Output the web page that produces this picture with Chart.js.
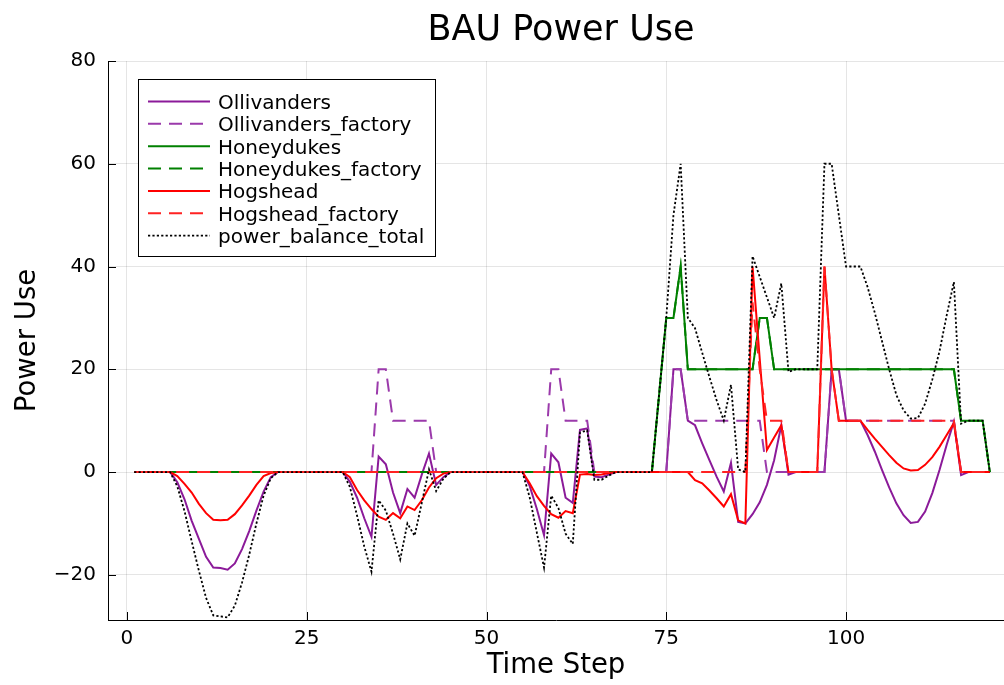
<!DOCTYPE html>
<html>
<head>
<meta charset="utf-8">
<script src="https://cdn.jsdelivr.net/npm/chart.js@4.4.1/dist/chart.umd.min.js"></script>
<style>
html,body{margin:0;padding:0;background:#fff;}
#wrap{width:1004px;height:685px;position:relative;}
</style>
</head>
<body>
<div id="wrap"><canvas id="c" width="1004" height="685"></canvas></div>
<script>
// ---------------- DATA ----------------
const titleText = 'BAU Power Use';
const xTitle = 'Time Step';
const yTitle = 'Power Use';
const xTickValues = [0, 25, 50, 75, 100];
const yTickValues = [-20, 0, 20, 40, 60, 80];
const timeSteps = Array.from({length: 120}, (_, i) => i + 1);

const seriesNames = ['Ollivanders', 'Ollivanders_factory', 'Honeydukes', 'Honeydukes_factory', 'Hogshead', 'Hogshead_factory', 'power_balance_total'];

const ollivanders = [
  0,0,0,0,0,0,
  -2,-5.3,-9.5,-13,-16.5,-18.6,-18.7,-19,-17.8,-15,-11.5,-7.5,-3.8,-1,0,
  0,0,0,0,0,0,0,0,0,
  -1.9,-5,-9,-12.6,3,1.5,-4,-8,-3.3,-5,-0.5,3.6,-2.5,-1,0,
  0,0,0,0,0,0,0,0,0,0,
  -2.7,-7.2,-12.3,3.6,1.9,-5,-6,8.2,8.5,-0.9,-1,-0.5,0,
  0,0,0,0,0,0,0,
  20,20,10,9.1,5.6,2.3,-0.9,-3.8,1.8,-9.7,-10,-8.2,-5.9,-2.5,2.3,9.1,-0.5,0,0,0,0,0,
  20,20,10,10,10,7.2,4,0.4,-3,-6.1,-8.4,-9.9,-9.7,-7.7,-4.1,0.4,5.3,9.8,-0.6,0,0,0,0
];

const ollivandersFactory = [
  0,0,0,0,0,0,0,0,0,0, 0,0,0,0,0,0,0,0,0,0, 0,0,0,0,0,0,0,0,0,0, 0,0,0,0,
  20,20,10,10,10,10,10,10,
  0,0,0,0,0,0,0,0,0,0,0,0,0,0,0,0,
  20,20,10,10,10,10,
  0,0,0,0,0,0,0,0,0,0,0,
  20,20,10,10,10,10,10,10,10,10,10,10,10,
  0,0,0,0,0,0,0,0,0,
  20,20,10,10,10,10,10,10,10,10,10,10,10,10,10,10,10,10,
  0,0,0,0,0
];

const honeydukes = [
  0,0,0,0,0,0,0,0,0,0, 0,0,0,0,0,0,0,0,0,0, 0,0,0,0,0,0,0,0,0,0,
  0,0,0,0,0,0,0,0,0,0, 0,0,0,0,0,0,0,0,0,0, 0,0,0,0,0,0,0,0,0,0,
  0,0,0,0,0,0,0,0,0,0, 0,0,0,
  15,30,30,40,
  20,20,20,20,20,20,20,20,20,20,
  30,30,
  20,20,20,20,20,20,20,20,20,20,20,20,20,20,20,20,20,20,20,20,20,20,20,20,20,20,
  10,10,10,10,
  0
];

const honeydukesFactory = [
  0,0,0,0,0,0,0,0,0,0, 0,0,0,0,0,0,0,0,0,0, 0,0,0,0,0,0,0,0,0,0,
  0,0,0,0,0,0,0,0,0,0, 0,0,0,0,0,0,0,0,0,0, 0,0,0,0,0,0,0,0,0,0,
  0,0,0,0,0,0,0,0,0,0, 0,0,0,
  15,30,30,40,
  20,20,20,20,20,20,20,20,20,20,
  30,30,
  20,20,20,20,20,20,20,20,20,20,20,20,20,20,20,20,20,20,20,20,20,20,20,20,20,20,
  10,10,10,10,
  0
];

const hogshead = [
  0,0,0,0,0,0,
  -0.8,-2.3,-4,-6.2,-8,-9.3,-9.4,-9.3,-8.2,-6.5,-4.6,-2.5,-0.8,-0.2,0,
  0,0,0,0,0,0,0,0,0,
  -1,-3.5,-5.5,-7.2,-8.7,-9.3,-8,-9,-6.7,-7.4,-5.5,-3,-1.2,-0.3,0,
  0,0,0,0,0,0,0,0,0,0,
  -2.2,-4.7,-6.6,-8.2,-8.9,-7.6,-8,-0.5,-0.4,-0.6,-0.5,-0.2,0,
  0,0,0,0,0,0,0,0,0,0,
  -1.6,-2.2,-3.6,-5.1,-6.7,-4.3,-9.4,-10,40,22,4.3,6.7,9.1,0,0,0,0,0,
  40,20,10,10,10,10,8.2,6.5,4.9,3.3,1.8,0.7,0.3,0.4,1.4,2.9,4.9,7.2,9.5,
  0,0,0,0,0
];

const hogsheadFactory = [
  0,0,0,0,0,0,0,0,0,0, 0,0,0,0,0,0,0,0,0,0, 0,0,0,0,0,0,0,0,0,0,
  0,0,0,0,0,0,0,0,0,0, 0,0,0,0,0,0,0,0,0,0, 0,0,0,0,0,0,0,0,0,0,
  0,0,0,0,0,0,0,0,0,0, 0,0,0,0,0,0,0,0,0,0, 0,0,0,0,0,0,
  33,20,10,10,10,
  0,0,0,0,0,
  40,20,
  10,10,10,10,10,10,10,10,10,10,10,10,10,10,10,10,10,
  0,0,0,0,0
];

const powerBalanceTotal = [
  0,0,0,0,0,0,
  -2.8,-7.6,-13.5,-19.2,-24.5,-27.9,-28.1,-28.3,-26,-21.5,-16.1,-10,-4.6,-1.2,0,
  0,0,0,0,0,0,0,0,0,
  -2.9,-8.5,-14.5,-19.4,-5.5,-7.5,-12,-17,-10,-12.4,-6,0.5,-3.7,-1.3,0,
  0,0,0,0,0,0,0,0,0,0,
  -4.9,-11.8,-18.6,-4.6,-7,-12,-14,7.7,8.1,-1.5,-1.5,-0.7,0,
  0,0,0,0,0,
  15,30,50,60,30,28,23.2,18.5,14,10,
  17,0.5,0,42,38,34,30,36.7,19.5,20,
  20,20,20,60,60,50,40,40,40,36,
  31,25.5,20,15,12,10.4,10.5,13.3,18,23.5,
  30.5,37,9.4,10,10,10,0
];

// ---------------- STYLE ----------------
const FONT = "'DejaVu Sans', sans-serif";
Chart.defaults.font.family = FONT;
Chart.defaults.color = '#000';

const seriesValues = [ollivanders, ollivandersFactory, honeydukes, honeydukesFactory, hogshead, hogsheadFactory, powerBalanceTotal];
const seriesColors = ['#8b1a99', '#9b3aab', '#008000', '#008000', '#ff0000', '#ff2222', '#000000'];
const DASH = [13, 8];
const DOT = [2.2, 2.2];
const seriesDash = [[], DASH, [], DASH, [], DASH, DOT];
const seriesDashOffset = [0, 0, 0, 10, 0, 0, 0];
const seriesWidth = [2, 2, 2, 2, 2, 2, 1.8];

const datasets = seriesNames.map((name, i) => ({
  label: name,
  data: seriesValues[i].map((v, j) => ({x: timeSteps[j], y: v})),
  borderColor: seriesColors[i],
  backgroundColor: seriesColors[i],
  borderDash: seriesDash[i],
  borderDashOffset: seriesDashOffset[i],
  borderWidth: seriesWidth[i],
  pointRadius: 0,
  tension: 0,
  fill: false,
  order: seriesNames.length - 1 - i
}));

const fmt = v => (v < 0 ? '\u2212' + Math.abs(v) : String(v));

const plotsDecor = {
  id: 'plotsDecor',
  afterDraw(chart) {
    const {ctx, chartArea: a, scales: {x, y}} = chart;
    ctx.save();
    // inward tick marks
    ctx.strokeStyle = '#000';
    ctx.lineWidth = 1;
    ctx.setLineDash([]);
    ctx.beginPath();
    xTickValues.forEach(v => {
      const px = Math.round(x.getPixelForValue(v)) + 0.5;
      ctx.moveTo(px, a.bottom); ctx.lineTo(px, a.bottom - 8);
    });
    yTickValues.forEach(v => {
      const py = Math.round(y.getPixelForValue(v)) + 0.5;
      ctx.moveTo(a.left, py); ctx.lineTo(a.left + 8, py);
    });
    ctx.stroke();

    // title
    ctx.fillStyle = '#000';
    ctx.font = `35px ${FONT}`;
    ctx.textAlign = 'center';
    ctx.textBaseline = 'alphabetic';
    ctx.fillText(titleText, 561, 40);

    // legend box
    const L = 138.5, T = 79.5, R = 435.5, B = 256.5;
    ctx.fillStyle = '#fff';
    ctx.fillRect(L, T, R - L, B - T);
    ctx.strokeStyle = '#000';
    ctx.lineWidth = 1;
    ctx.strokeRect(L, T, R - L, B - T);
    ctx.font = `20px ${FONT}`;
    ctx.textAlign = 'left';
    ctx.textBaseline = 'alphabetic';
    seriesNames.forEach((name, i) => {
      const cy = 101.5 + i * 22.35;
      ctx.save();
      ctx.strokeStyle = seriesColors[i];
      ctx.lineWidth = seriesWidth[i];
      ctx.setLineDash(seriesDash[i]);
      ctx.beginPath();
      ctx.moveTo(148, cy); ctx.lineTo(210, cy);
      ctx.stroke();
      ctx.restore();
      ctx.fillStyle = '#000';
      ctx.fillText(name, 218, cy + 7.3);
    });
    ctx.restore();
  }
};

new Chart(document.getElementById('c'), {
  type: 'line',
  data: {datasets},
  options: {
    responsive: false,
    animation: false,
    events: [],
    layout: {padding: {top: 61, right: 0, bottom: 0, left: 0}},
    plugins: {
      legend: {display: false},
      title: {display: false},
      tooltip: {enabled: false}
    },
    scales: {
      x: {
        type: 'linear',
        min: -2.64,
        max: 121.97,
        afterBuildTicks: s => { s.ticks = xTickValues.map(v => ({value: v})); },
        afterFit: s => { s.height = 65; },
        grid: {color: 'rgba(0,0,0,0.1)', lineWidth: 1, drawTicks: false},
        border: {display: true, color: '#000', width: 1},
        ticks: {padding: 7, autoSkip: false, maxRotation: 0, font: {size: 20}, color: '#000', callback: fmt},
        title: {display: true, text: xTitle, font: {size: 27.5}, color: '#000', padding: {top: 0, bottom: 3}}
      },
      y: {
        type: 'linear',
        min: -28.8,
        max: 80,
        afterBuildTicks: s => { s.ticks = yTickValues.map(v => ({value: v})); },
        afterFit: s => { s.width = 108; },
        grid: {color: 'rgba(0,0,0,0.1)', lineWidth: 1, drawTicks: false},
        border: {display: true, color: '#000', width: 1},
        ticks: {padding: 12, font: {size: 20}, color: '#000', callback: fmt},
        title: {display: true, text: yTitle, font: {size: 27.5}, color: '#000', padding: {top: 11, bottom: 0}}
      }
    }
  },
  plugins: [plotsDecor]
});
</script>
</body>
</html>
